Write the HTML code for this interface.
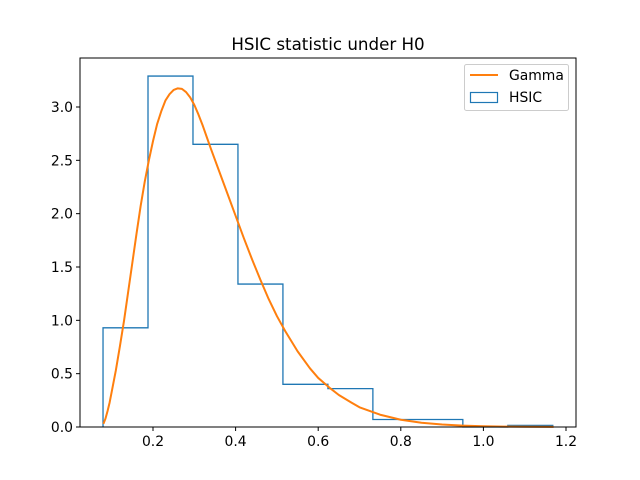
<!DOCTYPE html>
<html><head><meta charset="utf-8"><style>
body{margin:0;background:#fff}
svg{display:block;font-family:"DejaVu Sans","Liberation Sans",sans-serif}
</style></head><body>
<svg id="chart" width="640" height="480"></svg>
<script>
const binEdgeStart = 0.079;
const binWidth = 0.1089;
const binHeights = [0.93, 3.29, 2.65, 1.34, 0.40, 0.36, 0.07, 0.07, 0.0, 0.015];
const gammaX = [0.08,0.085,0.09,0.095,0.10,0.11,0.12,0.13,0.14,0.15,0.16,0.17,0.18,0.19,0.20,0.21,0.22,0.23,0.24,0.25,0.26,0.27,0.28,0.29,0.30,0.31,0.32,0.33,0.34,0.36,0.38,0.40,0.42,0.44,0.46,0.48,0.50,0.52,0.55,0.58,0.60,0.63,0.65,0.68,0.70,0.75,0.80,0.85,0.90,0.95,1.00,1.05,1.10,1.17];
const gammaY = [0.03,0.08,0.15,0.23,0.33,0.53,0.76,1.00,1.27,1.54,1.81,2.07,2.30,2.50,2.68,2.84,2.96,3.06,3.12,3.16,3.175,3.17,3.14,3.09,3.02,2.93,2.83,2.72,2.61,2.40,2.19,1.98,1.77,1.57,1.38,1.20,1.04,0.90,0.71,0.55,0.46,0.36,0.30,0.23,0.185,0.115,0.068,0.04,0.023,0.013,0.007,0.004,0.002,0.001];
const xTicks = [0.2,0.4,0.6,0.8,1.0,1.2];
const xTickLabels = ["0.2","0.4","0.6","0.8","1.0","1.2"];
const yTicks = [0,0.5,1.0,1.5,2.0,2.5,3.0];
const yTickLabels = ["0.0","0.5","1.0","1.5","2.0","2.5","3.0"];

const L=80,R=576,T=58,B=427;
const sx = v => 70.4 + 413*v;
const sy = v => 427 - 106.67*v;
const svg=document.getElementById('chart');
const NS='http://www.w3.org/2000/svg';
function mk(tag,attrs,parent){const e=document.createElementNS(NS,tag);for(const k in attrs)e.setAttribute(k,attrs[k]);(parent||svg).appendChild(e);return e;}

let d='M'+sx(binEdgeStart)+','+sy(0);
binHeights.forEach((h,i)=>{
  const x0=sx(binEdgeStart+i*binWidth), x1=sx(binEdgeStart+(i+1)*binWidth);
  d+=' L'+x0+','+sy(h)+' L'+x1+','+sy(h);
});
d+=' L'+sx(binEdgeStart+binHeights.length*binWidth)+','+sy(0);
const hist=mk('path',{d:d,fill:'none',stroke:'#1f77b4','stroke-width':1.3});



const pts=gammaX.map((x,i)=>sx(x)+','+sy(gammaY[i])).join(' ');
const line=mk('polyline',{points:pts,fill:'none',stroke:'#ff7f0e','stroke-width':2,'stroke-linejoin':'round'});



const frame=mk('rect',{x:L,y:T,width:R-L,height:B-T,fill:'none',stroke:'#000','stroke-width':1});



xTicks.forEach((v,i)=>{
  const x=sx(v);
  const t=mk('line',{x1:x,x2:x,y1:B,y2:B+4,stroke:'#000'});
  
  
  const lb=mk('text',{x:x,y:B+19,'text-anchor':'middle','font-size':13.9});
  lb.textContent=xTickLabels[i];
  
  
});
yTicks.forEach((v,i)=>{
  const y=sy(v);
  const t=mk('line',{x1:L-4,x2:L,y1:y,y2:y,stroke:'#000'});
  
  
  const lb=mk('text',{x:L-7,y:y+5,'text-anchor':'end','font-size':13.9});
  lb.textContent=yTickLabels[i];
  
  
});
</script>
<script>
(function(){
const svg=document.getElementById('chart');
const NS='http://www.w3.org/2000/svg';
const title=document.createElementNS(NS,'text');
title.setAttribute('x',328);title.setAttribute('y',50);title.setAttribute('text-anchor','middle');title.setAttribute('font-size',16.7);
title.textContent='HSIC statistic under H0';


svg.appendChild(title);
const g=document.createElementNS(NS,'g');


g.innerHTML='<rect x="464.5" y="64.5" width="104" height="46" rx="2" fill="#fff" fill-opacity="0.8" stroke="#ccc"/>'+
'<line x1="470" x2="498" y1="75" y2="75" stroke="#ff7f0e" stroke-width="2"/>'+
'<text x="509" y="80" font-size="13.9">Gamma</text>'+
'<rect x="470.5" y="92.5" width="27" height="10" fill="none" stroke="#1f77b4" stroke-width="1.2"/>'+
'<text x="509" y="102" font-size="13.9">HSIC</text>';
svg.appendChild(g);
})();
</script>
</body></html>
